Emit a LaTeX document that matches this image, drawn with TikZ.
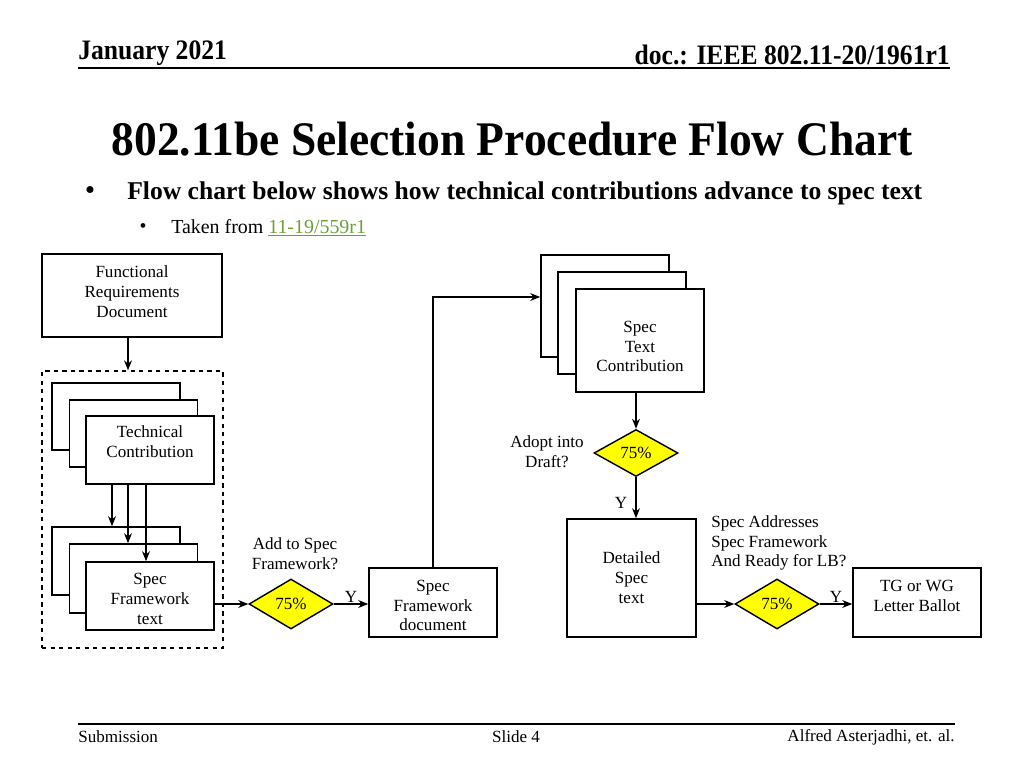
\documentclass[tikz,border=0pt]{standalone}
\usepackage{fontspec}
\setmainfont{Liberation Serif}
\usetikzlibrary{arrows.meta,shapes.geometric}
\newdimen\pxu \pxu=0.703125pt
\definecolor{linkgreen}{RGB}{106,160,55}
\definecolor{dyellow}{RGB}{255,255,0}
\begin{document}
\begin{tikzpicture}[x=0.703125pt,y=-0.703125pt,
  box/.style={draw, line width=1.1pt, fill=white, minimum width=128\pxu, inner sep=0pt},
  lbl/.style={font=\fontsize{12}{14}\selectfont, align=center, inner sep=0pt},
  dia/.style={diamond, draw, line width=1pt, fill=dyellow, inner sep=0pt, minimum width=84\pxu, minimum height=50\pxu, font=\fontsize{12}{14}\selectfont},
  arr/.style={line width=1pt, -{Stealth[length=7pt,width=5.5pt,inset=2.2pt]}},
  rule/.style={line width=1.4pt}
]
\useasboundingbox (0,0) rectangle (1024,768);
% header
\node[anchor=base west, inner sep=0pt, font=\fontsize{18}{20}\selectfont\bfseries] (date) at (78,60) {\scalebox{1}[1.1]{January 2021}};
\node[anchor=base east, inner sep=0pt, font=\fontsize{18}{20}\selectfont\bfseries] (doc) at (950,65) {\scalebox{1}[1.1]{doc.: IEEE 802.11-20/1961r1}};
\draw[rule] (78,68) -- (950,68);
% title
\node[inner sep=0pt, font=\fontsize{32}{36}\selectfont\bfseries] (title) at (512,139) {\scalebox{1}[1.06]{802.11be Selection Procedure Flow Chart}};
\node[inner sep=0pt, font=\fontsize{18}{22}\selectfont\bfseries] (b1) at (90,193) {•};
\node[anchor=west, inner sep=0pt, font=\fontsize{18}{22}\selectfont\bfseries] (l1) at (127,193) {Flow chart below shows how technical contributions advance to spec text};
\node[inner sep=0pt, font=\fontsize{14}{16}\selectfont] (b2) at (143,228) {•};
\node[anchor=west, inner sep=0pt, font=\fontsize{14}{16}\selectfont] (l2) at (171,228) {Taken from \textcolor{linkgreen}{\underline{11-19/559r1}}};
% footer
\draw[rule] (78,724) -- (955,724);
\node[anchor=west, inner sep=0pt, font=\fontsize{12}{14}\selectfont] (f1) at (78,737) {Submission};
\node[inner sep=0pt, font=\fontsize{12}{14}\selectfont] (f2) at (516,737) {Slide 4};
\node[anchor=east, inner sep=0pt, font=\fontsize{12}{14}\selectfont] (f3) at (955,737) {Alfred Asterjadhi, et. al.};

% functional requirements
\node[box, minimum width=180\pxu, minimum height=83\pxu, label={[lbl,name=frdt,yshift=4\pxu]center:Functional\\Requirements\\Document}] (frd) at (132,295.5) {};
\node[draw, dashed, line width=0.9pt, minimum width=181\pxu, minimum height=277\pxu, inner sep=0pt] (grp) at (132.5,509.5) {};
\draw[arr] ([xshift=-4\pxu]frd.south) -- ([xshift=-4\pxu]frd.south |- grp.north);

% technical contribution stack
\node[box, minimum height=67\pxu] (tc1) at (116,416.5) {};
\node[box, minimum height=67\pxu] (tc2) at (133.5,433.5) {};
\node[box, minimum height=68\pxu, label={[lbl,name=tct,yshift=8\pxu]center:Technical\\Contribution}] (tc3) at (150,450) {};

% spec framework text stack
\node[box, minimum height=68\pxu] (sf1) at (116,561) {};
\node[box, minimum height=69\pxu] (sf2) at (133.5,578.5) {};
\node[box, minimum height=68\pxu, label={[lbl,name=sft,yshift=-3\pxu]center:Spec\\Framework\\text}] (sf3) at (150,596) {};

\draw[arr] ([xshift=-38\pxu]tc3.south) -- ([xshift=-38\pxu]tc3.south |- sf1.north);
\draw[arr] ([xshift=-22\pxu]tc3.south) -- ([xshift=-22\pxu]tc3.south |- sf2.north);
\draw[arr] ([xshift=-4\pxu]tc3.south) -- ([xshift=-4\pxu]tc3.south |- sf3.north);

% diamond 1
\node[dia] (d1) at (291,604) {75\%};
\node[lbl] (q1) at (295,554) {Add to Spec\\Framework?};
\draw[arr] (sf3.east |- d1.west) -- (d1.west);

% spec framework document
\node[box, minimum height=69\pxu, label={[lbl,name=sfdt,yshift=-3\pxu]center:Spec\\Framework\\document}] (sfd) at (433,602.5) {};
\draw[arr] (d1.east) -- node[lbl, above, yshift=1\pxu] (y1) {Y} (d1.east -| sfd.west);

% spec text contribution stack
\node[box, minimum height=102\pxu] (stc1) at (605,306) {};
\node[box, minimum height=102\pxu] (stc2) at (622,323) {};
\node[box, minimum height=103\pxu, label={[lbl,name=stct,yshift=-6\pxu]center:Spec\\Text\\Contribution}] (stc3) at (640,340.5) {};
\draw[arr] (sfd.north) |- ([yshift=9\pxu]stc1.west);

% diamond 2
\node[dia, minimum height=47\pxu] (d2) at (636,453) {75\%};
\node[lbl] (q2) at (547,452) {Adopt into\\Draft?};
\draw[arr] (stc3.south -| d2.north) -- (d2.north);

% detailed spec text
\node[box, minimum width=129\pxu, minimum height=118\pxu, label={[lbl,name=dstt]center:Detailed\\Spec\\text}] (dst) at (631.5,578) {};
\draw[arr] (d2.south) -- (d2.south |- dst.north);
\node[lbl] (y2) at (621,503) {Y};

% diamond 3
\node[dia] (d3) at (777,604) {75\%};
\node[lbl, anchor=west, align=left] (q3) at (711,543) {Spec Addresses\\Spec Framework\\And Ready for LB?};
\draw[arr] (dst.east |- d3.west) -- (d3.west);

% TG / WG letter ballot
\node[box, minimum height=69\pxu, label={[lbl,name=tgt,yshift=7\pxu]center:TG or WG\\Letter Ballot}] (tg) at (917,602.5) {};
\draw[arr] (d3.east) -- node[lbl, above, yshift=1\pxu] (y3) {Y} (d3.east -| tg.west);
\end{tikzpicture}
\end{document}
